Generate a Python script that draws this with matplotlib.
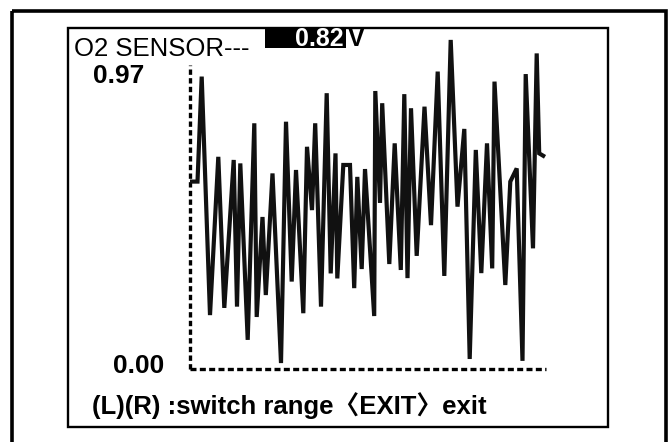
import matplotlib
matplotlib.use("Agg")
import matplotlib.pyplot as plt
from matplotlib.patches import Rectangle
from matplotlib import font_manager as fm

# ---- data ----
t = [0, 7.5, 11.7, 20, 28.3, 34.3, 43.7, 47, 50.3, 57.7, 64.3, 66.7, 72.5, 75.8,
     82.5, 91, 96, 101.7, 106, 113.3, 117, 122, 125.2, 131, 136.7, 140.7, 145.5,
     147.3, 153.3, 160, 164.2, 167.3, 171.7, 175, 184.2, 185.3, 190, 192.2, 199.3,
     204.7, 210.8, 214.3, 217.5, 221, 226.7, 234.5, 241, 247.7, 254.3, 260.7, 267.5,
     274.3, 279.7, 285.8, 291.3, 297, 302.2, 304.5, 315.3, 320.3, 326.7, 332.5,
     335.7, 343, 346.7, 349.2, 355]
volts = [0.598, 0.598, 0.933, 0.172, 0.677, 0.195, 0.667, 0.199, 0.656, 0.093,
         0.784, 0.166, 0.485, 0.236, 0.624, 0.019, 0.789, 0.279, 0.635, 0.178,
         0.709, 0.507, 0.784, 0.199, 0.880, 0.305, 0.688, 0.289, 0.651, 0.651,
         0.258, 0.613, 0.319, 0.638, 0.169, 0.887, 0.530, 0.848, 0.335, 0.720,
         0.316, 0.877, 0.290, 0.832, 0.361, 0.837, 0.459, 0.949, 0.297, 1.050,
         0.518, 0.766, 0.032, 0.699, 0.306, 0.720, 0.321, 0.917, 0.268, 0.598,
         0.640, 0.026, 0.941, 0.385, 1.007, 0.688, 0.677]
y_max = 0.97
t_max = 356
y_max_label = "0.97"
y_min_label = "0.00"
current_value = "0.82"
title_text = "O2 SENSOR---"
unit_text = "V"
footer_text = "(L)(R) :switch range\u3008EXIT\u3009exit"

W, H = 672, 442
fig = plt.figure(figsize=(W / 100, H / 100), dpi=100)
fig.patch.set_facecolor("white")

avail = {f.name for f in fm.fontManager.ttflist}
narrow = "Liberation Sans Narrow" if "Liberation Sans Narrow" in avail else "Liberation Sans"
fam = [narrow, "Noto Sans CJK SC", "DejaVu Sans"]

# background axes in pixel coordinates for frames and text
bg = fig.add_axes([0, 0, 1, 1])
bg.set_xlim(0, W)
bg.set_ylim(H, 0)
bg.axis("off")
bg.add_patch(Rectangle((11.5, 11), 654, 460, fill=False, lw=2.6, ec="black"))
bg.add_patch(Rectangle((67.5, 28), 540, 399, fill=False, lw=1.7, ec="black"))

bg.text(74, 56, title_text, fontsize=18.5, family=fam, ha="left", va="baseline")
bg.add_patch(Rectangle((265, 28.5), 81, 19.5, fc="black", ec="none"))
bg.text(344, 46.5, current_value, fontsize=18, family=fam, fontweight="bold",
        color="white", ha="right", va="baseline")
bg.text(347.5, 46.5, unit_text, fontsize=18, family=fam, fontweight="bold",
        color="black", ha="left", va="baseline")
bg.text(93, 83, y_max_label, fontsize=19, family=fam, fontweight="bold",
        ha="left", va="baseline")
bg.text(113, 373, y_min_label, fontsize=19, family=fam, fontweight="bold",
        ha="left", va="baseline")
bg.text(92, 414, footer_text, fontsize=18.5, family=fam, fontweight="bold",
        ha="left", va="baseline")

# plot axes
x0, x1 = 190, 546
y0, y1 = 369, 65
ax = fig.add_axes([x0 / W, 1 - y0 / H, (x1 - x0) / W, (y0 - y1) / H])
ax.set_xlim(0, t_max)
ax.set_ylim(0, y_max)
ax.set_facecolor("none")
ax.axis("off")
ax.axvline(0, color="black", lw=2.4, dashes=(1.6, 1.0), clip_on=False)
ax.axhline(0, color="black", lw=2.4, dashes=(1.8, 1.0), clip_on=False)

ax.plot(t, volts, color="#111111", lw=3.0, solid_joinstyle="miter",
        solid_capstyle="butt", clip_on=False)

fig.savefig("out.png", dpi=100, facecolor="white")
